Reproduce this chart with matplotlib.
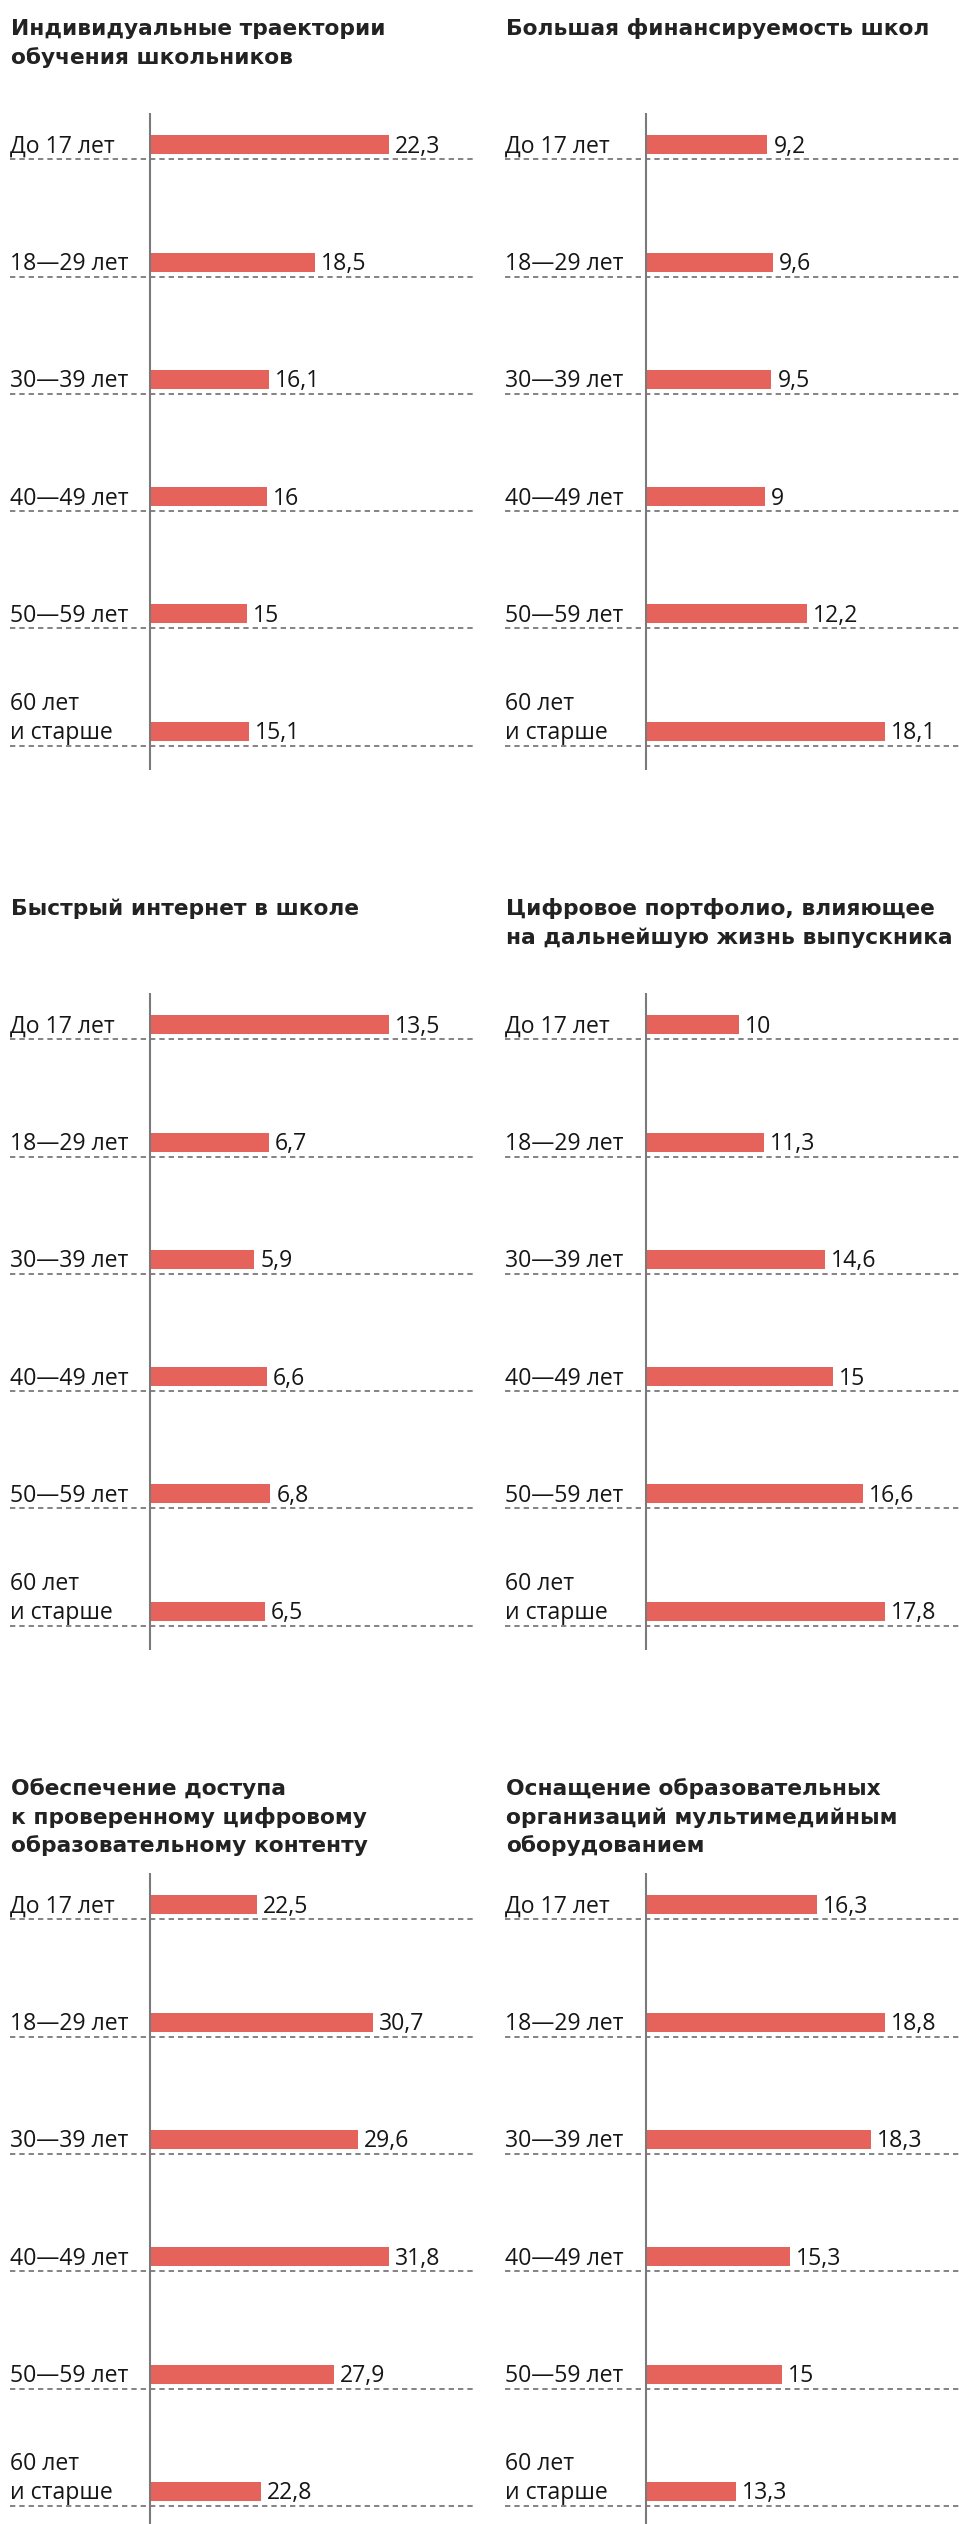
import numpy as np
import matplotlib
matplotlib.use('Agg')
import matplotlib.pyplot as plt

# data
titles = [
	"Индивидуальные траектории\nобучения школьников",
	"Большая финансируемость школ",
	"Быстрый интернет в школе",
	"Цифровое портфолио, влияющее\nна дальнейшую жизнь выпускника",
	"Обеспечение доступа\nк проверенному цифровому\nобразовательному контенту",
	"Оснащение образовательных\nорганизаций мультимедийным\nоборудованием",
]
age_groups = ["До 17 лет", "18—29 лет", "30—39 лет", "40—49 лет", "50—59 лет", "60 лет\nи старше"]

trajectories = [22.3, 18.5, 16.1, 16, 15, 15.1]
funding = [9.2, 9.6, 9.5, 9, 12.2, 18.1]
internet = [13.5, 6.7, 5.9, 6.6, 6.8, 6.5]
portfolio = [10, 11.3, 14.6, 15, 16.6, 17.8]
content = [22.5, 30.7, 29.6, 31.8, 27.9, 22.8]
equipment = [16.3, 18.8, 18.3, 15.3, 15, 13.3]

# value where each panel's bars start (the vertical line)
bar_start = [10, 0, 0, 5, 15, 10]

series = [trajectories, funding, internet, portfolio, content, equipment]

W, H = 959, 2524
BAR_COLOR = '#e5635a'
TXT = '#161616'
LABEL_FONT = ['Open Sans', 'DejaVu Sans']
TITLE_FONT = ['DejaVu Sans']

fig = plt.figure(figsize=(W / 100, H / 100), dpi=100)
fig.patch.set_facecolor('white')


def fmt(v):
	if float(v).is_integer():
		return str(int(v))
	return ('%.1f' % v).replace('.', ',')


row_step = 117.3
for k in range(6):
	col = k % 2
	g = 880 * (k // 2)
	left = 10 if col == 0 else 505
	right = 473 if col == 0 else 959
	axis_off = 140 if col == 0 else 141
	top = g + 112.6
	first = g + 159.3
	bottom = min(g + 770, H)

	# title
	for j, line in enumerate(titles[k].split('\n')):
		fig.text((left + 1) / W, 1 - (g + 35 + j * 28.5) / H, line, fontsize=15.7,
			fontweight='bold', color='#222222', family=TITLE_FONT, va='baseline', ha='left')

	ax = fig.add_axes([left / W, 1 - bottom / H, (right - left) / W, (bottom - top) / H])
	ax.axis('off')
	vals = np.array(series[k], dtype=float)
	base = bar_start[k]
	s = 239.0 / (vals.max() - base)  # px per unit
	ax.set_xlim(base - axis_off / s, base + (right - left - axis_off) / s)
	ax.set_ylim((bottom - first) / row_step, (top - first) / row_step)

	y = np.arange(len(vals))
	ax.barh(y - 14.5 / row_step, vals - base, left=base, height=19 / row_step,
		color=BAR_COLOR, zorder=2)
	ax.axvline(base, color='#7a7a7a', lw=1.5, zorder=3)
	for i in y:
		ax.axhline(i, color='#6e6e6e', lw=1.2, ls=(0, (3.2, 2.4)), zorder=1)

	tr = ax.get_yaxis_transform()
	for i, lab in enumerate(age_groups):
		lines = lab.split('\n')
		for j, line in enumerate(reversed(lines)):
			ax.text(0, i - (6.6 + 29 * j) / row_step, line, transform=tr, fontsize=16.6,
				color=TXT, family=LABEL_FONT, va='baseline', ha='left')
		ax.text(vals[i] + 6 / s, i - 6.6 / row_step, fmt(vals[i]), fontsize=16.6,
			color=TXT, family=LABEL_FONT, va='baseline', ha='left')

plt.savefig('out.png', dpi=100, facecolor='white')
plt.close()
